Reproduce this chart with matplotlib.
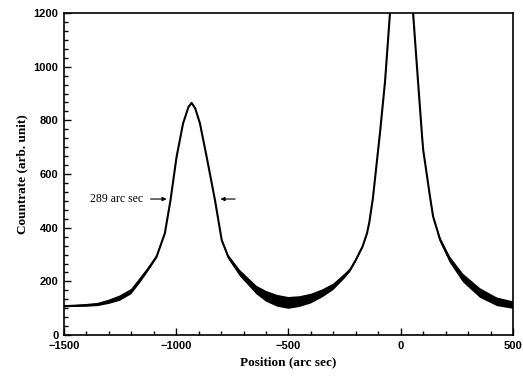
import numpy as np
import matplotlib
matplotlib.use('Agg')
import matplotlib.pyplot as plt
from matplotlib.ticker import MultipleLocator

pos = np.array([-1500, -1450, -1400, -1350, -1300, -1250, -1200, -1160, -1125, -1087,
                -1050, -1025, -998, -969, -945, -931, -915, -894, -864, -827,
                -797, -768, -716, -642, -600, -550, -500, -450, -400, -350,
                -300, -250, -225, -200, -170, -150, -140, -124, -92, -70,
                -48, -25, 0, 25, 55, 77, 95, 100, 121, 130,
                144, 175, 219, 277, 353, 429, 500])
rate = np.array([108, 109, 111, 114, 124, 138, 162, 205, 245, 292,
                 380, 503, 664, 789, 850, 865, 845, 789, 664, 503,
                 354, 292, 231, 168, 145, 128, 120, 125, 136, 155,
                 180, 220, 243, 280, 330, 380, 420, 510, 757, 944,
                 1199, 1500, 1700, 1500, 1199, 944, 740, 690, 569, 517,
                 442, 356, 281, 213, 157, 124, 112])
# Rauschbreite (halbe Dicke der Kurve)
spread = np.array([4, 4, 5, 6, 8, 10, 10, 10, 8, 6,
                   4, 3, 3, 3, 3, 3, 3, 3, 3, 3,
                   5, 8, 12, 16, 20, 22, 22, 20, 18, 15,
                   12, 9, 7, 6, 5, 4, 3, 3, 2, 2,
                   2, 2, 2, 2, 2, 2, 3, 3, 4, 5,
                   6, 9, 12, 16, 18, 16, 14])

arrow_y = 507
fwhm_text = '289 arc sec'

fig = plt.figure(figsize=(5.23, 3.83), dpi=100)
ax = fig.add_axes([0.122, 0.125, 0.859, 0.841])

ax.fill_between(pos, rate - spread, rate + spread, color='black', lw=0)
ax.plot(pos, rate, 'k-', lw=1.5)

ax.annotate('', xy=(-1030, arrow_y), xytext=(-1126, arrow_y),
            arrowprops=dict(arrowstyle='-|>', color='black', lw=0.8, mutation_scale=6))
ax.annotate('', xy=(-815, arrow_y), xytext=(-725, arrow_y),
            arrowprops=dict(arrowstyle='-|>', color='black', lw=0.8, mutation_scale=6))
ax.text(-1145, arrow_y, fwhm_text, ha='right', va='center',
        family='Liberation Serif', fontsize=8.5)

ax.set_xlim(-1500, 500)
ax.set_ylim(0, 1200)
ax.xaxis.set_major_locator(MultipleLocator(500))
ax.xaxis.set_minor_locator(MultipleLocator(100))
ax.yaxis.set_major_locator(MultipleLocator(200))
ax.yaxis.set_minor_locator(MultipleLocator(200 / 6))
ax.tick_params(which='both', direction='in', top=False, right=False, width=1)
ax.tick_params(which='major', length=5, labelsize=8, pad=4)
ax.tick_params(which='minor', length=3)
for lab in ax.get_xticklabels() + ax.get_yticklabels():
    lab.set_fontweight('bold')
    lab.set_family('Liberation Sans')
for s in ax.spines.values():
    s.set_linewidth(1.2)

ax.set_xlabel('Position (arc sec)', family='Liberation Serif', fontweight='bold', fontsize=9.5)
ax.set_ylabel('Countrate (arb. unit)', family='Liberation Serif', fontweight='bold', fontsize=9.5)

fig.savefig('out.png', dpi=100)
